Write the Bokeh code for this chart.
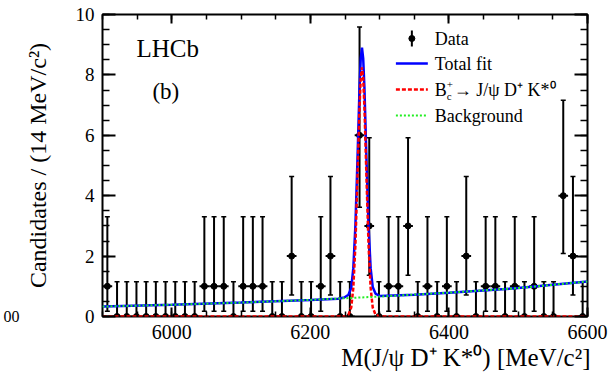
import numpy as np
from bokeh.plotting import figure
from bokeh.models import (ColumnDataSource, Whisker, TeeHead, Label, FixedTicker,
                          LinearAxis, Range1d, Title)
from bokeh.embed import file_html
from bokeh.resources import INLINE

# ---------------- data ----------------
bin_lo = 5900.0
bin_width = 14.0
counts = [1, 0, 0, 0, 0, 0, 0, 0, 0, 0,
          1, 1, 1, 0, 1, 1, 1, 0, 0, 2,
          0, 0, 1, 2, 0, 0, 6, 3, 0, 1,
          1, 3, 0, 1, 0, 1, 0, 2, 0, 1,
          1, 0, 1, 0, 1, 0, 0, 4, 2, 0]
# Poisson 68% interval bounds used for the error bars
poisson_lo = {0: 0.0, 1: 0.173, 2: 0.708, 3: 1.367, 4: 2.086, 6: 3.620}
poisson_hi = {0: 1.148, 1: 3.300, 2: 4.638, 3: 5.918, 4: 7.163, 6: 9.584}

# fit curves
total_x = [5900, 6000, 6100, 6200, 6240, 6249, 6255, 6259, 6262, 6265, 6268, 6271,
           6272.75, 6274.5, 6276.25, 6278, 6281, 6284, 6287, 6290, 6294, 6300,
           6350, 6400, 6500, 6600]
total_y = [0.33, 0.39, 0.46, 0.55, 0.59, 0.63, 0.72, 0.95, 1.6, 3.0, 5.2, 7.6,
           8.55, 8.9, 8.55, 7.6, 5.2, 3.0, 1.6, 0.98, 0.76, 0.68,
           0.72, 0.79, 0.94, 1.16]
sig_x = [5900, 6249, 6255, 6259, 6262, 6265, 6268, 6271, 6272.75, 6274.5,
         6276.25, 6278, 6281, 6284, 6287, 6290, 6294, 6300, 6600]
sig_y = [0.0, 0.0, 0.06, 0.3, 0.95, 2.35, 4.6, 6.95, 7.9, 8.25,
         7.9, 6.95, 4.6, 2.35, 0.95, 0.3, 0.06, 0.0, 0.0]
bkg_x = [5900, 6000, 6100, 6200, 6300, 6400, 6500, 6600]
bkg_y = [0.33, 0.39, 0.46, 0.55, 0.66, 0.79, 0.94, 1.16]

x_ticks = [6000, 6200, 6400, 6600]
y_ticks = [0, 2, 4, 6, 8, 10]

# ---------------- figure ----------------
FONT = "Liberation Serif"
p = figure(width=612, height=372, x_range=Range1d(5900, 6600), y_range=Range1d(0, 10),
           output_backend="svg", toolbar_location=None,
           x_axis_type=None, y_axis_type=None,
           min_border_left=101, min_border_right=25, min_border_top=14, min_border_bottom=56,
           background_fill_color="white", border_fill_color="white")
p.grid.visible = False
p.outline_line_color = "black"
p.outline_line_width = 2
p.extra_y_ranges = {"aux": Range1d(0, 10)}

x_minor = list(np.arange(5900, 6601, 50))
y_minor = list(np.arange(0, 10.01, 0.5))


def make_axis(ticks, minor, tick_in, minor_in, show_labels, size):
    ax = LinearAxis(ticker=FixedTicker(ticks=ticks, minor_ticks=minor))
    ax.axis_line_color = None
    ax.major_tick_in = tick_in
    ax.major_tick_out = 0
    ax.minor_tick_in = minor_in
    ax.minor_tick_out = 0
    ax.major_tick_line_width = 2
    ax.minor_tick_line_width = 1.5
    ax.major_tick_line_color = "black"
    ax.minor_tick_line_color = "black"
    ax.major_label_text_font = FONT
    ax.major_label_text_color = "black"
    if show_labels:
        ax.major_label_text_font_size = size
        ax.major_label_standoff = 8
    else:
        ax.major_label_text_font_size = "0px"
        ax.major_label_standoff = 0
    return ax


p.add_layout(make_axis(x_ticks, x_minor, 9, 5, True, "20px"), "below")
p.add_layout(make_axis(x_ticks, x_minor, 9, 5, False, "0px"), "above")
yax = make_axis(y_ticks, y_minor, 13, 7, True, "19px")
yax.axis_label = "Candidates / (14 MeV/c\u00b2)"
yax.axis_label_text_font = FONT
yax.axis_label_text_font_size = "24px"
yax.axis_label_text_font_style = "normal"
yax.axis_label_text_color = "black"
yax.axis_label_standoff = 22
p.add_layout(yax, "left")
p.add_layout(make_axis(y_ticks, y_minor, 13, 7, False, "0px"), "right")

# x axis title
p.add_layout(Title(text="M(J/\u03c8 D\u207a K*\u2070) [MeV/c\u00b2]", align="right",
                   text_font=FONT, text_font_size="25px", text_font_style="normal",
                   text_color="black", standoff=0, offset=-3), "below")

# remnant of a neighbouring panel's tick label, outermost on the left
aux = LinearAxis(y_range_name="aux", ticker=FixedTicker(ticks=[0], minor_ticks=[]),
                 major_label_overrides={0: "00"})
aux.axis_line_color = None
aux.major_tick_line_color = None
aux.minor_tick_line_color = None
aux.major_tick_in = 0
aux.major_tick_out = 0
aux.major_label_standoff = 2
aux.axis_label_standoff = 0
aux.major_label_text_font = FONT
aux.major_label_text_font_size = "16px"
aux.major_label_text_color = "black"
p.add_layout(aux, "left")

# ---------------- data points ----------------
xc = [bin_lo + bin_width * (i + 0.5) for i in range(len(counts))]
src = ColumnDataSource(dict(
    x=xc, y=counts,
    xl=[x - bin_width / 2 for x in xc], xr=[x + bin_width / 2 for x in xc],
    lo=[poisson_lo[c] for c in counts], hi=[poisson_hi[c] for c in counts]))

p.add_layout(Whisker(source=src, base="x", lower="lo", upper="hi", dimension="height",
                     line_color="black", line_width=2,
                     upper_head=TeeHead(size=5, line_width=1.5, line_color="black"),
                     lower_head=TeeHead(size=5, line_width=1.5, line_color="black")))
p.segment(x0="xl", y0="y", x1="xr", y1="y", source=src, line_color="black", line_width=2)
p.scatter("x", "y", source=src, size=6, color="black")

# ---------------- fit curves ----------------
p.line(total_x, total_y, line_color="#0000ff", line_width=2.5)
p.line(sig_x, sig_y, line_color="#ff0000", line_width=2.5, line_dash="4 2")
p.line(bkg_x, bkg_y, line_color="#22ee22", line_width=2, line_dash="2 2")


# ---------------- text & legend ----------------
def dx(px):
    return 5900 + (px - 101) * 700.0 / 486.0


def dy(py):
    return (316 - py) * 10.0 / 302.0


def lab(px, py, text, size, align="left", baseline="middle", angle=0):
    p.add_layout(Label(x=dx(px), y=dy(py), text=text, text_font=FONT,
                       text_font_size=size, text_align=align, text_baseline=baseline,
                       angle=angle, text_color="black"))


lab(135, 48, "LHCb", "25px")
lab(151, 91, "(b)", "23px")

# legend
p.segment(x0=[dx(411)], y0=[dy(30)], x1=[dx(411)], y1=[dy(46)], line_color="black", line_width=2)
p.scatter([dx(411)], [dy(38)], size=6, color="black")
p.line([dx(395), dx(427)], [dy(63), dy(63)], line_color="#0000ff", line_width=2.5)
p.line([dx(395), dx(427)], [dy(89), dy(89)], line_color="#ff0000", line_width=2.5, line_dash="4 2")
p.line([dx(395), dx(427)], [dy(115), dy(115)], line_color="#22ee22", line_width=2, line_dash="2 2")

lab(434, 38, "Data", "18px")
lab(434, 63, "Total fit", "18px")
lab(434, 89, "B", "18px")
lab(446, 84, "+", "11px")
lab(446, 95, "c", "11px")
lab(453, 89, "\u2192 J/\u03c8 D\u207a K*\u2070", "18px")
lab(434, 115, "Background", "18px")

open("out.html", "w").write(file_html(p, INLINE))
